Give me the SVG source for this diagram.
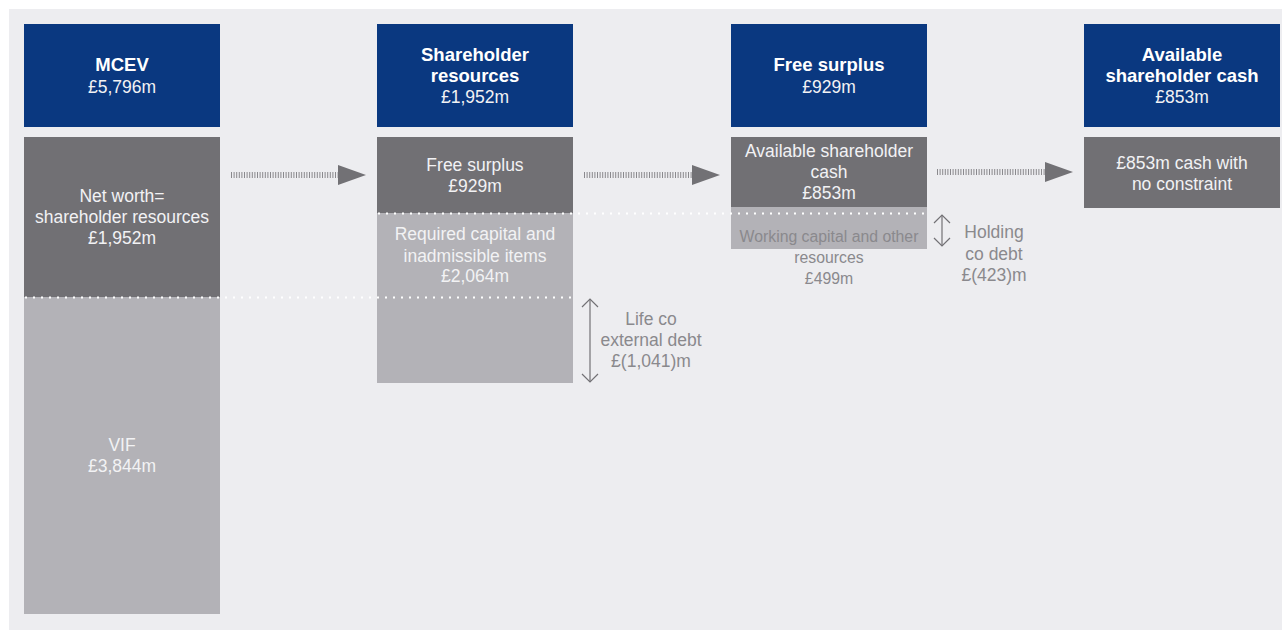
<svg xmlns="http://www.w3.org/2000/svg" width="1282" height="630" viewBox="0 0 1282 630">
<style>
.blue{fill:#0a3880}
.dark{fill:#717074}
.light{fill:#b3b2b7}
text{font-family:"Liberation Sans",Arial,sans-serif;font-size:17.5px;text-anchor:middle}
.w{fill:#ffffff}
.wl{fill:#f2f2f4}
.b{font-weight:bold;font-size:18.5px}
.g{fill:#8a898d}
.dot{stroke:#ffffff;stroke-width:2;stroke-dasharray:2 6;fill:none}
.hatch{stroke:#8a898d;stroke-width:6;stroke-dasharray:1 1.6;fill:none}
.head{fill:#727175}
.dbl{stroke:#727175;stroke-width:1.2;fill:none}
</style>
<rect x="0" y="0" width="1282" height="630" fill="#ffffff"/>
<rect x="9" y="9" width="1273" height="621" fill="#ededf0"/>

<g id="mcev">
<rect class="blue" x="24" y="24" width="196" height="103"/>
<text class="w b" x="122" y="71">MCEV</text>
<text class="wl" x="122" y="93">£5,796m</text>
<rect class="dark" x="24" y="137" width="196" height="160"/>
<text class="wl" x="122" y="202">Net worth=</text>
<text class="wl" x="122" y="223">shareholder resources</text>
<text class="wl" x="122" y="244">£1,952m</text>
<rect class="light" x="24" y="297" width="196" height="317"/>
<text class="wl" x="122" y="451">VIF</text>
<text class="wl" x="122" y="472">£3,844m</text>
</g>

<g id="shareholder-resources">
<rect class="blue" x="377" y="24" width="196" height="103"/>
<text class="w b" x="475" y="61">Shareholder</text>
<text class="w b" x="475" y="82">resources</text>
<text class="wl" x="475" y="103">£1,952m</text>
<rect class="dark" x="377" y="137" width="196" height="76"/>
<text class="wl" x="475" y="171">Free surplus</text>
<text class="wl" x="475" y="192">£929m</text>
<rect class="light" x="377" y="213" width="196" height="170"/>
<text class="wl" x="475" y="240">Required capital and</text>
<text class="wl" x="475" y="262">inadmissible items</text>
<text class="wl" x="475" y="282">£2,064m</text>
</g>

<g id="free-surplus">
<rect class="blue" x="731" y="24" width="196" height="103"/>
<text class="w b" x="829" y="71">Free surplus</text>
<text class="wl" x="829" y="93">£929m</text>
<rect class="dark" x="731" y="137" width="196" height="70"/>
<text class="wl" x="829" y="157">Available shareholder</text>
<text class="wl" x="829" y="178">cash</text>
<text class="wl" x="829" y="199">£853m</text>
<rect class="light" x="731" y="207" width="196" height="42"/>
<text class="g" x="829" y="242" style="font-size:15.8px">Working capital and other</text>
<text class="g" x="829" y="263" style="font-size:15.8px">resources</text>
<text class="g" x="829" y="284" style="font-size:15.8px">£499m</text>
</g>

<g id="available-cash">
<rect class="blue" x="1084" y="24" width="196" height="103"/>
<text class="w b" x="1182" y="61">Available</text>
<text class="w b" x="1182" y="82">shareholder cash</text>
<text class="wl" x="1182" y="103">£853m</text>
<rect class="dark" x="1084" y="137" width="196" height="71"/>
<text class="wl" x="1182" y="169">£853m cash with</text>
<text class="wl" x="1182" y="190">no constraint</text>
</g>

<g id="dividers">
<line class="dot" x1="25" y1="297.5" x2="573" y2="297.5"/>
<line class="dot" x1="378" y1="213.5" x2="927" y2="213.5"/>
</g>

<g id="life-co-debt">
<line class="dbl" x1="590" y1="299" x2="590" y2="382"/>
<polyline class="dbl" points="582,307 590,299 598,307"/>
<polyline class="dbl" points="582,374 590,382 598,374"/>
<text class="g" x="651" y="325">Life co</text>
<text class="g" x="651" y="346">external debt</text>
<text class="g" x="651" y="367">£(1,041)m</text>
</g>

<g id="holding-co-debt">
<line class="dbl" x1="942" y1="215" x2="942" y2="246"/>
<polyline class="dbl" points="934,223 942,215 950,223"/>
<polyline class="dbl" points="934,238 942,246 950,238"/>
<text class="g" x="994" y="238">Holding</text>
<text class="g" x="994" y="260">co debt</text>
<text class="g" x="994" y="281">£(423)m</text>
</g>

<g id="connectors">
<line class="hatch" x1="231" y1="175" x2="338" y2="175"/>
<polygon class="head" points="338,165 366,175 338,185"/>
<line class="hatch" x1="584" y1="175" x2="692" y2="175"/>
<polygon class="head" points="692,165 720,175 692,185"/>
<line class="hatch" x1="937" y1="172" x2="1045" y2="172"/>
<polygon class="head" points="1045,162 1073,172 1045,182"/>
</g>
</svg>
